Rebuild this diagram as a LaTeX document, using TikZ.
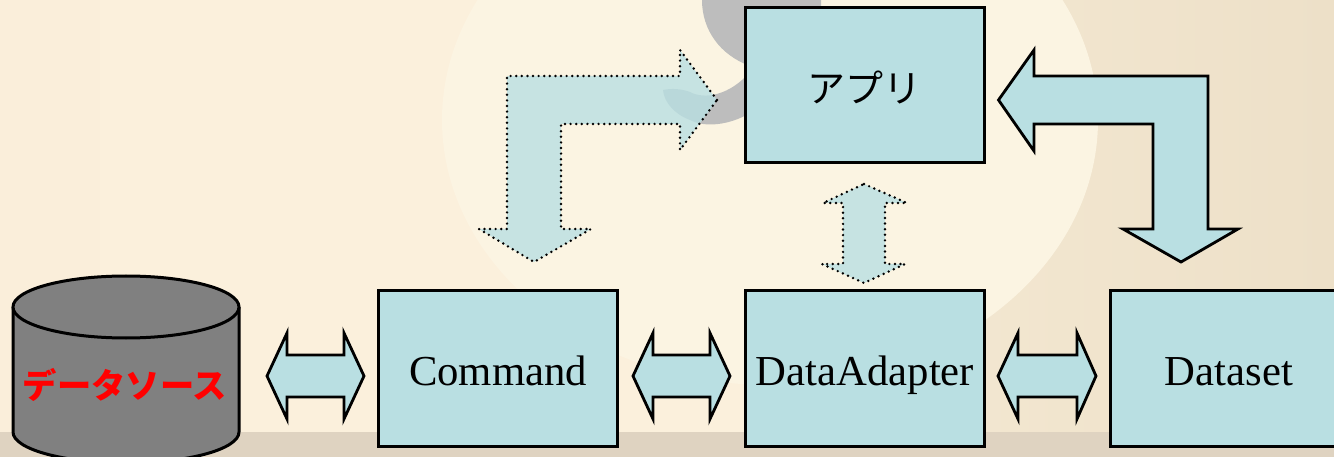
\documentclass[tikz,border=0pt]{standalone}
\usepackage{fontspec}
\setmainfont{Liberation Serif}
\newfontfamily\cjk{Noto Sans CJK JP}
\definecolor{boxfill}{HTML}{B9DFE2}
\definecolor{bgglow}{HTML}{FBF4E2}
\definecolor{bgedge}{HTML}{FAEEDA}
\definecolor{bgleft}{HTML}{FBF0DC}
\definecolor{bgright}{HTML}{EDE0C8}
\definecolor{bgband}{HTML}{DFD3C1}
\definecolor{swirl}{HTML}{BDBDBD}
\definecolor{dbgray}{HTML}{808080}
\tikzset{
  box/.style={draw=black,line width=3pt,fill=boxfill,inner sep=0pt,outer sep=0pt,minimum height=155pt,text height=43pt,text depth=10pt,font=\fontsize{42.7}{50}\selectfont},
  blockarrow/.style={draw=black,line width=2.8pt,fill=boxfill,miter limit=10,line join=miter},
  dotarrow/.style={draw=black,line width=2.7pt,fill=boxfill,fill opacity=0.8,draw opacity=1,line cap=round,line join=round,dash pattern=on 0pt off 5.6pt},
}
\begin{document}
\begin{tikzpicture}[x=1pt,y=-1pt]
\useasboundingbox (0,0) rectangle (1334,457);
\clip (0,0) rectangle (1334,457);
% background
\fill[bgleft] (0,0) rectangle (800,457);
\shade[left color=bgleft!60!bgright,right color=bgright] (800,0) rectangle (1334,457);
\fill[bgedge] (0,0) rectangle (100,432);
\fill[bgglow] (770,120) ellipse [x radius=328,y radius=265];
% swirl
\fill[swirl] (702,0) .. controls (702,30) and (720,55) .. (750,66) -- (750,8) -- (821,8) -- (821,0) -- cycle;
\fill[swirl] (663,90) .. controls (672,88) and (682,89) .. (690,92) .. controls (705,100) and (730,95) .. (750,72) -- (750,113) .. controls (730,125) and (705,128) .. (690,120) .. controls (674,114) and (664,102) .. (663,90) -- cycle;
\fill[bgband] (0,432) rectangle (1334,457);
% database
\draw[line width=3pt,fill=dbgray] (13,307) -- (13,432) arc[start angle=180,end angle=360,x radius=113,y radius=-31] -- (239,307);
\draw[line width=3pt,fill=dbgray] (126,307) ellipse [x radius=113,y radius=31];
\node[inner sep=0pt,text=red,font=\cjk\bfseries\fontsize{34.3}{40}\selectfont] (source) at (125,385) {データソース};
% boxes
\node[draw=black,line width=3pt,fill=boxfill,inner sep=0pt,outer sep=0pt,minimum height=155pt,minimum width=239pt] (app) at (865,85) {};
\node[inner sep=0pt,font=\cjk\fontsize{38}{44}\selectfont] (applabel) at (864,87) {アプリ};
\node[box,minimum width=239pt] (command) at (498,368.5) {Command};
\node[box,minimum width=239pt] (adapter) at (865,368.5) {DataAdapter};
\node[box,minimum width=238pt] (dataset) at (1229,368.5) {Dataset};
% horizontal double arrows
\draw[blockarrow] (267,376) -- (287,333) -- (287,355) -- (344,355) -- (344,333) -- (364,376) -- (344,419) -- (344,397) -- (287,397) -- (287,419) -- cycle;
\draw[blockarrow] (633,376) -- (653,333) -- (653,355) -- (710,355) -- (710,333) -- (730,376) -- (710,419) -- (710,397) -- (653,397) -- (653,419) -- cycle;
\draw[blockarrow] (998,376) -- (1018,333) -- (1018,355) -- (1077,355) -- (1077,333) -- (1096,376) -- (1077,419) -- (1077,397) -- (1018,397) -- (1018,419) -- cycle;
% bent solid arrow
\draw[blockarrow] (998.5,100) -- (1034,50) -- (1034,76) -- (1208,76) -- (1208,229) -- (1238,229) -- (1181,262) -- (1123,229) -- (1153,229) -- (1153,124) -- (1034,124) -- (1034,151) -- cycle;
% bent dotted arrow
\draw[dotarrow] (717,100) -- (680,50) -- (680,76) -- (507,76) -- (507,229) -- (479,229) -- (534,262) -- (591,229) -- (561,229) -- (561,124) -- (680,124) -- (680,150) -- cycle;
% vertical dotted arrow
\draw[dotarrow] (864,184) -- (907,203) -- (885,203) -- (885,264) -- (905,264) -- (864,283) -- (822,264) -- (843,264) -- (843,203) -- (823,203) -- cycle;
\end{tikzpicture}
\end{document}
